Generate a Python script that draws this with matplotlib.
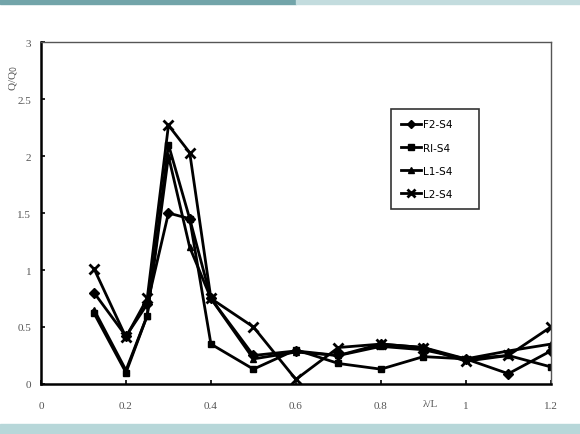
import numpy as np
import matplotlib.pyplot as plt
from matplotlib.patches import Rectangle

# lambda/L positions
x = [0.125, 0.2, 0.25, 0.3, 0.35, 0.4, 0.5, 0.6, 0.7, 0.8, 0.9, 1.0, 1.1, 1.2]

f2_s4 = [0.80, 0.42, 0.70, 1.50, 1.45, 0.75, 0.25, 0.29, 0.25, 0.35, 0.32, 0.22, 0.09, 0.29]
r1_s4 = [0.62, 0.10, 0.60, 2.10, 1.45, 0.35, 0.13, 0.30, 0.18, 0.13, 0.24, 0.22, 0.25, 0.15]
l1_s4 = [0.65, 0.12, 0.60, 2.00, 1.20, 0.75, 0.22, 0.28, 0.25, 0.33, 0.30, 0.22, 0.29, 0.35]
l2_s4 = [1.01, 0.41, 0.75, 2.27, 2.03, 0.75, 0.50, 0.04, 0.32, 0.35, 0.32, 0.20, 0.25, 0.50]

labels = ['F2-S4', 'Rl-S4', 'L1-S4', 'L2-S4']
markers = ['D', 's', '^', 'x']

fig = plt.figure(figsize=(5.8, 4.35), dpi=100)
fig.patch.set_facecolor('white')

# slide decoration bands
fig.patches.append(Rectangle((0, 0.988), 0.51, 0.012, transform=fig.transFigure,
                             color='#72a4a9', zorder=0))
fig.patches.append(Rectangle((0.51, 0.988), 0.49, 0.012, transform=fig.transFigure,
                             color='#c3dcde', zorder=0))
fig.patches.append(Rectangle((0, 0), 1, 0.022, transform=fig.transFigure,
                             color='#b7d7d9', zorder=0))

ax = fig.add_axes([0.0707, 0.115, 0.879, 0.786])

for ys, lab, m in zip([f2_s4, r1_s4, l1_s4, l2_s4], labels, markers):
    ms = 5 if m != 'x' else 7
    ax.plot(x, ys, color='black', lw=2, marker=m, markersize=ms,
            markeredgewidth=2 if m == 'x' else 1, label=lab + '     ')

ax.set_xlim(0, 1.2)
ax.set_ylim(0, 3)
ax.set_xticks([0, 0.2, 0.4, 0.6, 0.8, 1.0, 1.2])
ax.set_xticklabels(['0', '0.2', '0.4', '0.6', '0.8', '1', '1.2'])
ax.set_yticks([0, 0.5, 1, 1.5, 2, 2.5, 3])
ax.set_yticklabels(['0', '0.5', '1', '1.5', '2', '2.5', '3'])

tick_font = dict(family='Liberation Serif', size=8, color='#555555')
for t in ax.get_xticklabels() + ax.get_yticklabels():
    t.set_fontfamily('Liberation Serif')
    t.set_fontsize(8)
    t.set_color('#555555')

ax.tick_params(axis='both', direction='in', length=3, width=1.2, color='black')
ax.tick_params(axis='x', pad=12)
ax.tick_params(axis='y', pad=7)

ax.spines['left'].set_linewidth(1.8)
ax.spines['bottom'].set_linewidth(1.8)
ax.spines['top'].set_linewidth(1.0)
ax.spines['top'].set_color('#555555')
ax.spines['right'].set_linewidth(1.0)
ax.spines['right'].set_color('#555555')

fig.text(430 / 580, 1 - 405 / 435, 'λ/L', ha='center', va='center', **tick_font)
fig.text(14 / 580, 1 - 78 / 435, 'Q/Q$_0$', rotation=90, ha='center', va='center',
         **tick_font)

leg = ax.legend(loc='upper left', bbox_to_anchor=(0.686, 0.804), borderaxespad=0,
                frameon=True, fancybox=False, edgecolor='black', fontsize=7.5,
                handlelength=1.9, labelspacing=1.25, borderpad=1.0,
                handletextpad=0.15, markerscale=0.8)
leg.get_frame().set_linewidth(1.2)

fig.savefig('out.png', dpi=100, facecolor='white')
